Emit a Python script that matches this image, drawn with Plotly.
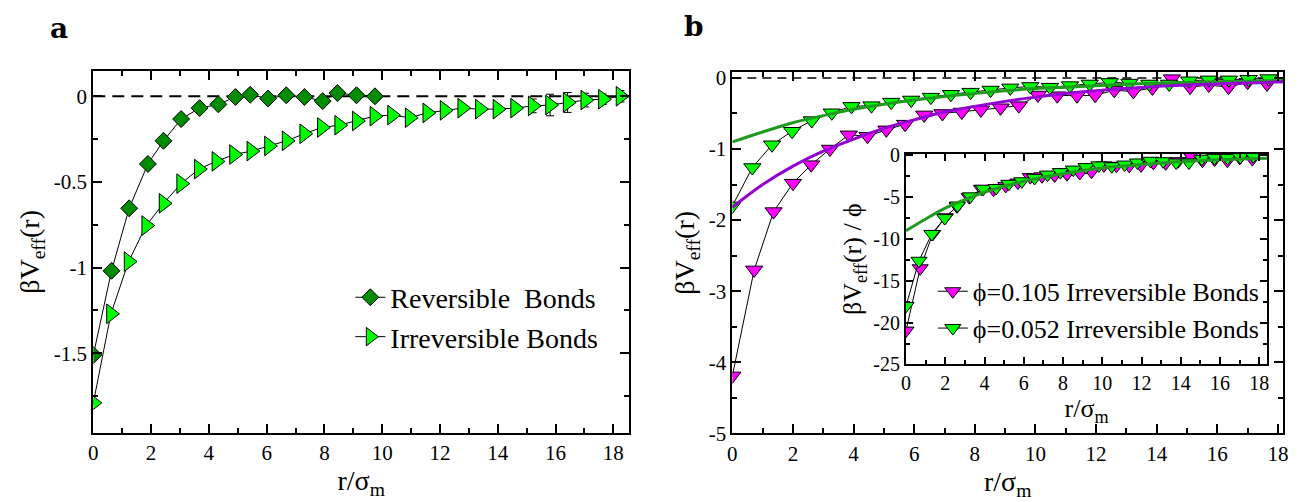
import plotly.graph_objects as go

SERIF = "Liberation Serif, Times New Roman, serif"

# ---------------- panel a data ----------------
r_rev = [0, 0.63, 1.24, 1.89, 2.43, 3.04, 3.68, 4.33, 4.92, 5.43, 6.05, 6.68, 7.31, 7.94, 8.45, 9.11, 9.75]
v_rev = [-1.511, -1.019, -0.654, -0.395, -0.260, -0.133, -0.069, -0.047, -0.004, 0.009, -0.013, 0.006,
         -0.004, -0.028, 0.019, 0.006, 0.0]

r_irr = [0, 0.61, 1.22, 1.83, 2.43, 3.04, 3.65, 4.26, 4.87, 5.47, 6.08, 6.69, 7.30, 7.91, 8.51, 9.12,
         9.73, 10.34, 10.95, 11.56, 12.16, 12.77, 13.38, 13.99, 14.60, 15.21, 15.81, 16.42, 17.03, 17.64, 18.25]
v_irr = [-1.79, -1.27, -0.965, -0.755, -0.625, -0.51, -0.425, -0.38, -0.34, -0.32, -0.29, -0.26, -0.219,
         -0.182, -0.169, -0.144, -0.116, -0.11, -0.125, -0.097, -0.082, -0.069, -0.075, -0.075, -0.069,
         -0.056, -0.051, -0.036, -0.022, -0.017, 0.0]
e_irr = [0.005, 0.01, 0.012, 0.012, 0.01, 0.012, 0.01, 0.012, 0.01, 0.01, 0.01, 0.01, 0.01,
         0.01, 0.012, 0.012, 0.012, 0.012, 0.015, 0.015, 0.012, 0.015, 0.015, 0.015, 0.015,
         0.04, 0.063, 0.058, 0.04, 0.03, 0.033]

# ---------------- panel b data ----------------
r_105 = [0, 0.72, 1.36, 2.0, 2.6, 3.22, 3.84, 4.46, 5.08, 5.7, 6.33, 6.93, 7.57, 8.2, 8.85, 9.45,
         10.08, 10.72, 11.37, 11.97, 12.6, 13.23, 13.86, 14.5, 15.1, 15.72, 16.37, 17.0, 17.64]
v_105 = [-4.19, -2.70, -1.88, -1.48, -1.22, -1.0, -0.80, -0.82, -0.73, -0.65, -0.52, -0.50, -0.48,
         -0.45, -0.42, -0.39, -0.24, -0.25, -0.25, -0.243, -0.175, -0.19, -0.14, -0.01, -0.13, -0.10,
         -0.13, -0.06, -0.085]

r_052 = [0, 0.66, 1.31, 1.97, 2.62, 3.28, 3.93, 4.59, 5.24, 5.9, 6.55, 7.21, 7.86, 8.52, 9.17, 9.83,
         10.48, 11.14, 11.79, 12.45, 13.1, 13.76, 14.41, 15.07, 15.72, 16.38, 17.03, 17.69]
v_052 = [-1.80, -1.26, -0.94, -0.75, -0.60, -0.49, -0.40, -0.39, -0.34, -0.31, -0.27, -0.23, -0.20,
         -0.17, -0.14, -0.12, -0.13, -0.108, -0.085, -0.063, -0.072, -0.085, -0.085, -0.04, -0.027,
         -0.027, -0.018, -0.009]

r_fit = [0, 1, 2, 3, 4, 5, 6, 7, 8, 9, 10, 11, 12, 13, 14, 15, 16, 17, 18.2]
fit_052 = [-0.90, -0.76, -0.63, -0.53, -0.44, -0.37, -0.31, -0.26, -0.22, -0.18, -0.15, -0.13, -0.11,
           -0.09, -0.075, -0.063, -0.052, -0.045, -0.037]
fit_105 = [-1.82, -1.50, -1.24, -1.03, -0.86, -0.71, -0.59, -0.48, -0.40, -0.33, -0.27, -0.22, -0.18,
           -0.15, -0.12, -0.10, -0.085, -0.07, -0.055]

# ---------------- inset data (βV/φ) ----------------
vin_105 = [-20.95, -13.5, -9.4, -7.4, -6.1, -5.0, -4.0, -4.1, -3.65, -3.25, -2.6, -2.5, -2.4, -2.25,
           -2.1, -1.95, -1.2, -1.25, -1.25, -1.2, -0.9, -0.95, -0.7, -0.05, -0.65, -0.5, -0.65, -0.3, -0.45]
vin_052 = [-18.0, -12.6, -9.4, -7.5, -6.0, -4.9, -4.0, -3.9, -3.4, -3.1, -2.7, -2.3, -2.0, -1.7, -1.4,
           -1.2, -1.3, -1.1, -0.85, -0.65, -0.7, -0.85, -0.85, -0.4, -0.3, -0.3, -0.2, -0.1]
r_fit_in = [0, 1, 2, 3, 4, 5, 6, 7, 8, 9, 10, 11, 12, 13, 14, 15, 16, 17, 18.4]
fit_in = [-9.0, -7.6, -6.3, -5.3, -4.4, -3.7, -3.1, -2.6, -2.2, -1.8, -1.5, -1.3, -1.1, -0.9, -0.75,
          -0.63, -0.52, -0.45, -0.35]

# ---------------- ticks ----------------
xa_ticks = [0, 2, 4, 6, 8, 10, 12, 14, 16, 18]
xa_labels = ["0", "2", "4", "6", "8", "10", "12", "14", "16", "18"]
ya_ticks = [0, -0.5, -1, -1.5]
ya_labels = ["0", "-0.5", "-1", "-1.5"]
yb_ticks = [0, -1, -2, -3, -4, -5]
yb_labels = ["0", "-1", "-2", "-3", "-4", "-5"]
yin_ticks = [0, -5, -10, -15, -20, -25]
yin_labels = ["0", "-5", "-10", "-15", "-20", "-25"]

# ---------------- colours ----------------
DKGREEN = "#008b00"
GREEN = "#00ff00"
MAGENTA = "#ff00ff"
FITGREEN = "#1f9a1f"
FITPURPLE = "#9400d3"

fig = go.Figure()

# panel a
fig.add_trace(go.Scatter(x=r_rev, y=v_rev, mode="lines+markers", name="Reversible  Bonds",
                         line=dict(color="black", width=1),
                         marker=dict(symbol="diamond", size=13, color=DKGREEN, line=dict(color="black", width=1)),
                         xaxis="x", yaxis="y", legend="legend", legendgroup="a1"))
fig.add_trace(go.Scatter(x=r_irr, y=v_irr, mode="lines+markers", name="Irreversible Bonds",
                         line=dict(color="black", width=1),
                         error_y=dict(type="data", array=e_irr, color="black", thickness=1, width=4),
                         marker=dict(symbol="triangle-right", size=17, color=GREEN, line=dict(color="black", width=1)),
                         xaxis="x", yaxis="y", legend="legend", legendgroup="a2"))

# panel b
fig.add_trace(go.Scatter(x=r_105, y=v_105, mode="lines+markers", showlegend=False,
                         line=dict(color="black", width=1),
                         marker=dict(symbol="triangle-down", size=15, color=MAGENTA, line=dict(color="black", width=1)),
                         xaxis="x2", yaxis="y2"))
fig.add_trace(go.Scatter(x=r_052, y=v_052, mode="lines+markers", showlegend=False,
                         line=dict(color="black", width=1),
                         marker=dict(symbol="triangle-down", size=15, color=GREEN, line=dict(color="black", width=1)),
                         xaxis="x2", yaxis="y2"))
fig.add_trace(go.Scatter(x=r_fit, y=fit_052, mode="lines", showlegend=False, line_shape="spline",
                         line=dict(color=FITGREEN, width=3), xaxis="x2", yaxis="y2"))
fig.add_trace(go.Scatter(x=r_fit, y=fit_105, mode="lines", showlegend=False, line_shape="spline",
                         line=dict(color=FITPURPLE, width=3), xaxis="x2", yaxis="y2"))

# inset
fig.add_trace(go.Scatter(x=r_105, y=vin_105, mode="lines+markers", name="ϕ=0.105 Irreversible Bonds",
                         line=dict(color="black", width=1),
                         marker=dict(symbol="triangle-down", size=14, color=MAGENTA, line=dict(color="black", width=1)),
                         xaxis="x3", yaxis="y3", legend="legend2", legendgroup="b1"))
fig.add_trace(go.Scatter(x=r_052, y=vin_052, mode="lines+markers", name="ϕ=0.052 Irreversible Bonds",
                         line=dict(color="black", width=1),
                         marker=dict(symbol="triangle-down", size=14, color=GREEN, line=dict(color="black", width=1)),
                         xaxis="x3", yaxis="y3", legend="legend2", legendgroup="b2"))
fig.add_trace(go.Scatter(x=r_fit_in, y=fit_in, mode="lines", showlegend=False, line_shape="spline",
                         line=dict(color=FITGREEN, width=3), xaxis="x3", yaxis="y3"))


def axis(domain, rng, tickvals, ticktext, minor_dtick, anchor, tsize=21, title=None, tlen=9, mlen=5):
    d = dict(domain=domain, range=rng, anchor=anchor, showline=True, linecolor="black", linewidth=2,
             mirror="allticks", ticks="inside", ticklen=tlen, tickwidth=1.5, tickcolor="black",
             showgrid=False, zeroline=False, tickmode="array", tickvals=tickvals, ticktext=ticktext,
             tickfont=dict(family=SERIF, size=tsize, color="black"),
             minor=dict(ticks="inside", ticklen=mlen, tickwidth=1.5, tickcolor="black",
                        tickmode="linear", tick0=0, dtick=minor_dtick, showgrid=False))
    if title is not None:
        d["title"] = title
    return d


TFONT = dict(family=SERIF, size=28, color="black")
TFONT_IN = dict(family=SERIF, size=26, color="black")

W, H = 1301, 502
dom_xa = [89 / W, 629 / W]
dom_ya = [1 - 442 / H, 1 - 65 / H]
dom_xb = [733 / W, 1288 / W]
dom_yb = [1 - 443 / H, 1 - 66 / H]
dom_xi = [908 / W, 1272 / W]
dom_yi = [1 - 371 / H, 1 - 151 / H]

fig.update_layout(
    width=W, height=H, margin=dict(l=0, r=0, t=0, b=0),
    paper_bgcolor="white", plot_bgcolor="white",
    font=dict(family=SERIF, color="black"),
    xaxis=axis(dom_xa, [0, 18.55], xa_ticks, xa_labels, 1, "y",
               title=dict(text="r/σ<sub>m</sub>", font=TFONT, standoff=2)),
    yaxis=axis(dom_ya, [-1.963, 0.146], ya_ticks, ya_labels, 0.25, "x",
               title=dict(text="βV<sub>eff</sub>(r)", font=TFONT, standoff=6)),
    xaxis2=axis(dom_xb, [0, 18.17], xa_ticks, xa_labels, 1, "y2",
                title=dict(text="r/σ<sub>m</sub>", font=TFONT, standoff=2)),
    yaxis2=axis(dom_yb, [-5, 0.08], yb_ticks, yb_labels, 0.5, "x2",
                title=dict(text="βV<sub>eff</sub>(r)", font=TFONT, standoff=6)),
    xaxis3=axis(dom_xi, [0, 18.4], xa_ticks, xa_labels, 1, "y3", tsize=20, tlen=7, mlen=4,
                title=dict(text="r/σ<sub>m</sub>", font=TFONT_IN, standoff=0)),
    yaxis3=axis(dom_yi, [-25, 0.2], yin_ticks, yin_labels, 2.5, "x3", tsize=20, tlen=7, mlen=4,
                title=dict(text="βV<sub>eff</sub>(r) / ϕ", font=TFONT_IN, standoff=4)),
    legend=dict(x=(388 - 40) / W, y=1 - 321.5 / H, xanchor="left", yanchor="middle",
                font=dict(family=SERIF, size=28, color="black"), bgcolor="rgba(0,0,0,0)",
                borderwidth=0, tracegroupgap=0, traceorder="normal"),
    legend2=dict(x=(975 - 40) / W, y=1 - 314 / H, xanchor="left", yanchor="middle",
                 font=dict(family=SERIF, size=26, color="black"), bgcolor="rgba(0,0,0,0)",
                 borderwidth=0, tracegroupgap=2, traceorder="normal"),
    shapes=[
        dict(type="line", xref="x domain", x0=0, x1=1, yref="y", y0=0, y1=0, layer="below",
             line=dict(color="black", width=2, dash="12px,7px")),
        dict(type="line", xref="x2 domain", x0=0, x1=1, yref="y2", y0=0, y1=0, layer="below",
             line=dict(color="black", width=1.5, dash="9px,6px")),
        dict(type="line", xref="x3 domain", x0=0, x1=1, yref="y3", y0=0, y1=0, layer="below",
             line=dict(color="black", width=1.5, dash="9px,6px")),
    ],
    annotations=[
        dict(text="<b>a</b>", x=54 / W, y=1 - 20 / H, xref="paper", yref="paper", showarrow=False,
             xanchor="center", yanchor="middle",
             font=dict(family="DejaVu Serif", size=28, color="black")),
        dict(text="<b>b</b>", x=694 / W, y=1 - 18 / H, xref="paper", yref="paper", showarrow=False,
             xanchor="center", yanchor="middle",
             font=dict(family="DejaVu Serif", size=28, color="black")),
    ],
)

fig.write_html("out.html", config={"displayModeBar": False},
               post_script="document.body.style.margin='0px';document.body.style.overflow='hidden';")
